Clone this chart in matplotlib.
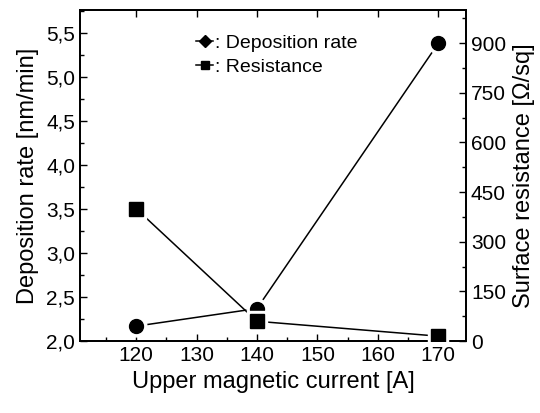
import numpy as np
import matplotlib
matplotlib.use('agg')
import matplotlib.pyplot as plt
from matplotlib.lines import Line2D
from matplotlib.ticker import MultipleLocator

plt.rcParams['font.family'] = ['Liberation Sans', 'DejaVu Sans']

# data
current = [120, 140, 170]
dep_rate = [2.17, 2.37, 5.38]        # nm/min
resistance = [400, 60, 15]           # Ohm/sq

fig = plt.figure(figsize=(5.4, 4.13), dpi=100)
ax1 = fig.add_axes([0.148, 0.174, 0.715, 0.802])
ax2 = ax1.twinx()

#lines first, then markers with a white halo so the lines stop short of them
ax1.plot(current, dep_rate, color='black', lw=1.1, zorder=2)
ax1.plot(current, dep_rate, ls='none', marker='o', ms=15, color='white', zorder=3)
ax1.plot(current, dep_rate, ls='none', marker='o', ms=10, color='black', zorder=4)
ax2.plot(current, resistance, color='black', lw=1.1, zorder=2)
ax2.plot(current, resistance, ls='none', marker='s', ms=15, color='white', zorder=3)
ax2.plot(current, resistance, ls='none', marker='s', ms=10, color='black', zorder=4)

ax1.set_xlim(110.7, 174.6)
ax1.set_ylim(2.0, 5.76)
ax2.set_ylim(0, 1000)

ax1.xaxis.set_major_locator(MultipleLocator(10))
ax1.xaxis.set_minor_locator(MultipleLocator(5))
ax1.yaxis.set_major_locator(MultipleLocator(0.5))
ax1.yaxis.set_minor_locator(MultipleLocator(0.25))
ax1.yaxis.set_major_formatter(lambda v, p: f'{v:.1f}'.replace('.', ','))
ax2.set_yticks([0, 150, 300, 450, 600, 750, 900])
ax2.yaxis.set_minor_locator(MultipleLocator(75))

ax1.tick_params(axis='both', which='both', direction='in', labelsize=15, top=True)
ax1.tick_params(which='major', length=5, width=1)
ax1.tick_params(which='minor', length=3, width=1)
ax1.tick_params(axis='x', which='minor', top=False)
ax2.tick_params(axis='y', which='both', direction='in', labelsize=15)
ax2.tick_params(which='major', length=5, width=1)
ax2.tick_params(which='minor', length=3, width=1)

for a in (ax1, ax2):
    for s in a.spines.values():
        s.set_linewidth(1.3)

ax1.set_xlabel('Upper magnetic current [A]', fontsize=17, labelpad=4)
ax1.set_ylabel('Deposition rate [nm/min]', fontsize=17, labelpad=5)
ax2.set_ylabel('Surface resistance [Ω/sq]', fontsize=17, labelpad=5)

handles = [Line2D([], [], color='black', lw=1.1, marker='D', ms=6),
           Line2D([], [], color='black', lw=1.1, marker='s', ms=6)]
ax1.legend(handles, [': Deposition rate', ': Resistance'], loc='upper left',
           bbox_to_anchor=(0.255, 0.98), frameon=False, fontsize=14,
           handlelength=0.9, handletextpad=0.1, labelspacing=0.35)

fig.savefig('out.png', dpi=100)
